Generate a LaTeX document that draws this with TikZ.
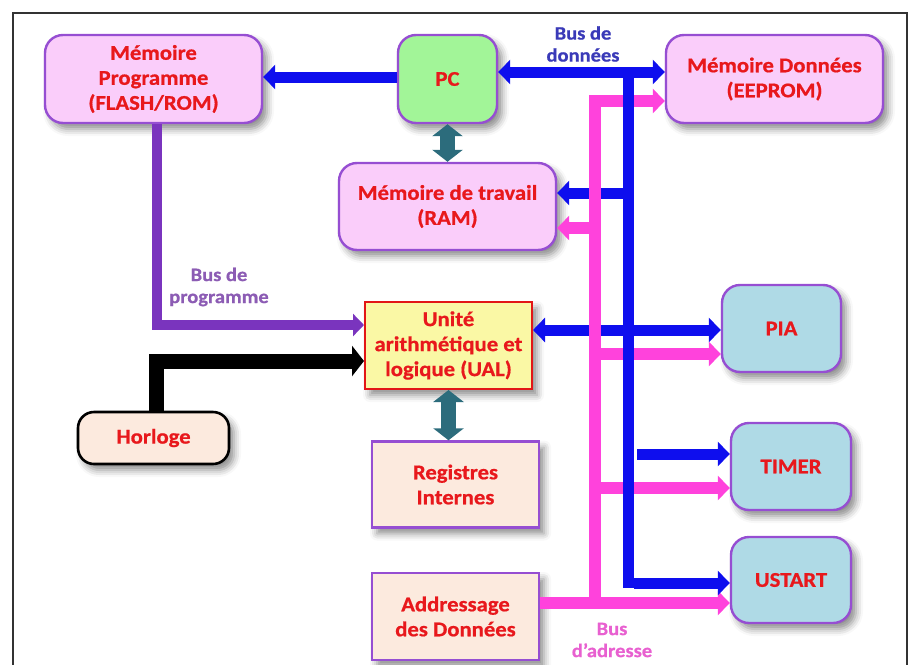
\documentclass[tikz,border=0pt]{standalone}
\usepackage{fontspec}
\usetikzlibrary{arrows.meta,shadows.blur,calc}
\newfontfamily\calib{Carlito}[FakeStretch=1.08,FakeBold=0.7]

\definecolor{txtred}{RGB}{232,24,28}
\definecolor{memfill}{RGB}{250,205,250}
\definecolor{boxline}{RGB}{150,78,210}
\definecolor{pcfill}{RGB}{162,245,152}
\definecolor{iofill}{RGB}{175,218,230}
\definecolor{ualfill}{RGB}{250,248,165}
\definecolor{ualline}{RGB}{226,22,22}
\definecolor{peach}{RGB}{252,234,222}
\definecolor{databus}{RGB}{14,14,238}
\definecolor{addrbus}{RGB}{255,66,220}
\definecolor{progbus}{RGB}{122,52,190}
\definecolor{linkteal}{RGB}{44,108,124}
\definecolor{lbldata}{RGB}{58,58,184}
\definecolor{lblprog}{RGB}{140,92,180}
\definecolor{lbladdr}{RGB}{232,96,208}

\tikzset{
  x=1pt, y=-1pt,
  txt/.style={font=\calib\bfseries\fontsize{21}{25}\selectfont, text=txtred, align=center, inner sep=0pt},
  buslabel/.style={font=\calib\bfseries\fontsize{19}{22}\selectfont, align=center, inner sep=0pt},
  softshadow/.style={blur shadow={shadow xshift=5pt, shadow yshift=-6pt, shadow blur radius=7pt, shadow opacity=45}},
  membox/.style={txt, draw=boxline, line width=2.4pt, fill=memfill, rounded corners=18pt, softshadow},
  pcbox/.style={membox, fill=pcfill},
  iobox/.style={membox, fill=iofill},
  ualbox/.style={txt, draw=ualline, line width=2pt, fill=ualfill, softshadow},
  regbox/.style={txt, draw=boxline, line width=2.4pt, fill=peach, softshadow},
  clkbox/.style={txt, draw=black, line width=2.6pt, fill=peach, rounded corners=16pt, softshadow},
  tip/.style={-{Triangle[length=12pt,width=24pt]}},
  dtip/.style={{Triangle[length=12pt,width=24pt]}-{Triangle[length=12pt,width=24pt]}},
  dbus/.style={draw=databus, line width=11pt},
  abus/.style={draw=addrbus, line width=12pt},
  pbus/.style={draw=progbus, line width=10pt, line join=miter},
  kbus/.style={draw=black, line width=15pt, line join=miter},
  tlink/.style={draw=linkteal, line width=15pt, {Triangle[length=12pt,width=30pt]}-{Triangle[length=12pt,width=30pt]}},
  frame/.style={draw=black!80, line width=1.6pt}
}

\begin{document}
\begin{tikzpicture}
\useasboundingbox (0,0) rectangle (912,664);
\draw[frame] (13,668) -- (13,13) -- (907,13) -- (907,668);

% blocks
\node[membox, minimum width=217pt, minimum height=88pt] (mprog) at (153.5,79) {Mémoire\\Programme\\(FLASH/ROM)};
\node[pcbox, minimum width=99pt, minimum height=88pt] (pc) at (447.5,79) {PC};
\node[membox, minimum width=217pt, minimum height=88pt] (mdon) at (774.5,79) {Mémoire Données\\(EEPROM)};
\node[membox, minimum width=217pt, minimum height=87pt] (ram) at (447.5,206.5) {Mémoire de travail\\(RAM)};
\node[ualbox, minimum width=167pt, minimum height=87pt] (ual) at (448.5,345.5) {Unité\\arithmétique et\\logique (UAL)};
\node[regbox, minimum width=167pt, minimum height=86pt] (reg) at (455.5,484.5) {Registres\\Internes};
\node[regbox, minimum width=167pt, minimum height=87pt] (addr) at (455.5,616.5) {Addressage\\des Données};
\node[clkbox, minimum width=151pt, minimum height=52pt] (horl) at (153.5,438) {Horloge};
\node[iobox, minimum width=119pt, minimum height=87pt] (pia) at (781.5,328.5) {PIA};
\node[iobox, minimum width=120pt, minimum height=87pt] (timer) at (791,466.5) {TIMER};
\node[iobox, minimum width=120pt, minimum height=86pt] (ustart) at (791,580) {USTART};

% bus labels
\node[buslabel, text=lbldata] (ldata) at (583,44) {Bus de\\données};
\node[buslabel, text=lblprog] (lprog) at (219,287) {Bus de\\programme};
\node[buslabel, text=lbladdr] (laddr) at (612,640) {Bus\\d’adresse};

% bus junction points
\coordinate (dtop) at (628,72);
\coordinate (dbot) at (628,588);
\coordinate (dram) at (628,193);
\coordinate (dual) at (628,330);
\coordinate (dtim) at (637,454);
\coordinate (dust) at (634,583);
\coordinate (atop) at (589,101);
\coordinate (acol) at (595,101);
\coordinate (abot) at (595,606);
\coordinate (aram) at (595,228);
\coordinate (apia) at (595,354);
\coordinate (atim) at (601,488);
\coordinate (aout) at (595,603);
\coordinate (pcorner) at (157,325);
\coordinate (kcorner) at (156,361);

% program counter to program memory
\draw[dbus, tip] (pc.west |- 0,77) -- (mprog.east |- 0,77);

% address bus branches (under the data bus trunk)
\draw[abus, tip] (atop) -- (mdon.west |- atop);
\draw[abus, tip] (aram) -- (ram.east |- aram);
\draw[abus, tip] (apia) -- (pia.west |- apia);
\draw[abus, tip] (atim) -- (timer.west |- atim);
\draw[abus, tip] (addr.east |- aout) -- (ustart.west |- aout);

% data bus
\draw[dbus] (dtop) -- (dbot);
\draw[dbus, dtip] (pc.east |- dtop) -- (mdon.west |- dtop);
\draw[dbus, tip] (dram) -- (ram.east |- dram);
\draw[dbus, dtip] (ual.east |- dual) -- (pia.west |- dual);
\draw[dbus, tip] (dtim) -- (timer.west |- dtim);
\draw[dbus, tip] (dust) -- (ustart.west |- dust);

% address bus trunk (over the data bus branches)
\draw[abus] (acol) -- (abot);

% program bus and clock
\draw[pbus, -{Triangle[length=11pt,width=22pt]}] (pcorner |- mprog.south) -- (pcorner) -- (ual.west |- pcorner);
\draw[kbus, -{Triangle[length=12pt,width=30pt]}] (kcorner |- horl.north) -- (kcorner) -- (ual.west |- kcorner);

% internal links
\draw[tlink] (pc.south) -- (ram.north);
\draw[tlink] (ual.south) -- (ual.south |- reg.north);
\end{tikzpicture}
\end{document}
